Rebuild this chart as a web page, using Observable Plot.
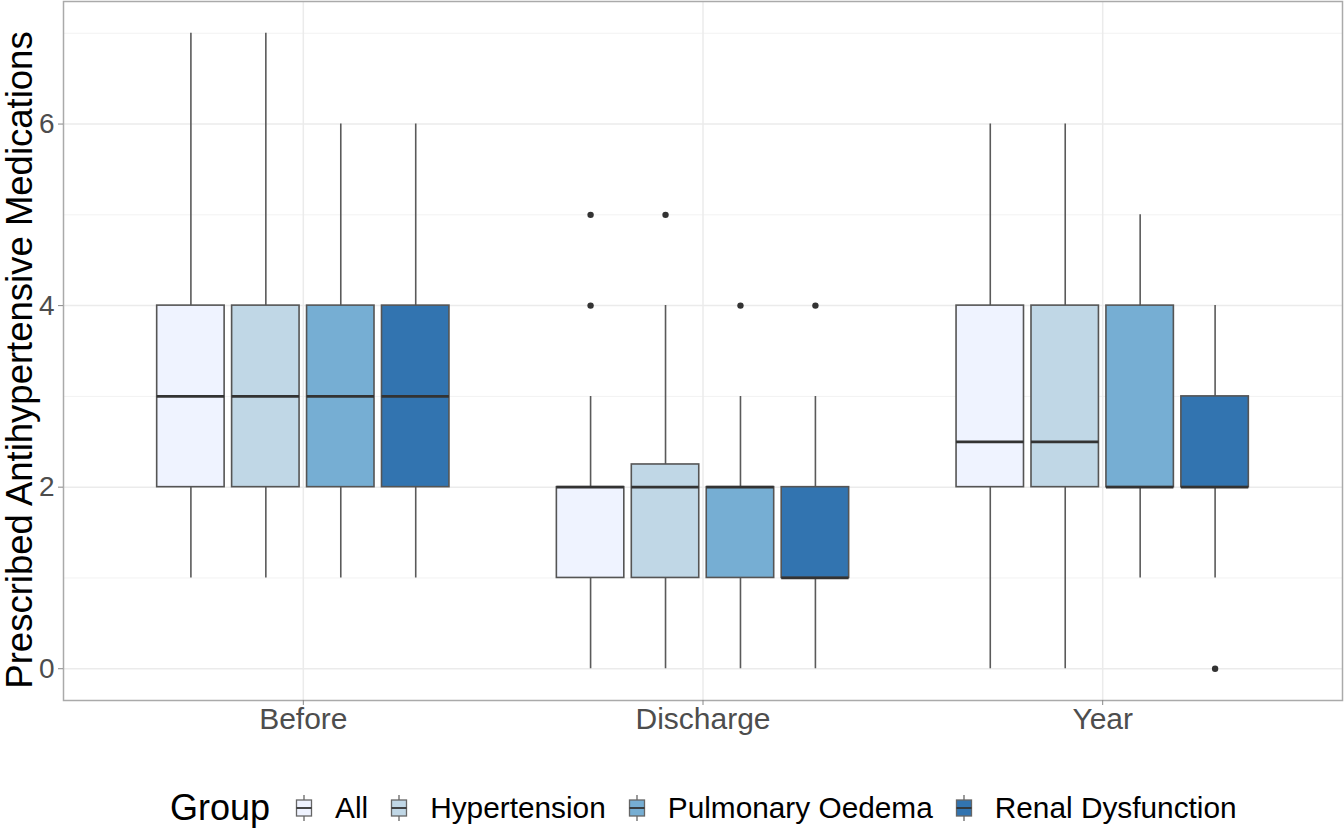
<!DOCTYPE html>
<html>
<head>
<meta charset="utf-8">
<script src="https://cdn.jsdelivr.net/npm/d3@7"></script>
<script src="https://cdn.jsdelivr.net/npm/@observablehq/plot@0.6"></script>
<style>
  html, body { margin: 0; padding: 0; background: #fff; }
  body { width: 1344px; height: 833px; overflow: hidden; font-family: "Liberation Sans", Arial, Helvetica, sans-serif; }
  #legend { height: 83px; display: flex; align-items: center; padding-left: 170px; padding-top: 33px; box-sizing: border-box; }
  #legend .title { font-size: 36px; color: #000; margin-right: 25px; }
  #legend .item { display: flex; align-items: center; margin-right: 22px; }
  #legend .item svg { margin-right: 22px; }
  #legend .item span { font-size: 29.8px; color: #000; }
</style>
</head>
<body>
<div id="chart"></div>
<div id="legend"></div>
<script>
// ---- data ----
const times = ["Before", "Discharge", "Year"];
const groups = ["All", "Hypertension", "Pulmonary Oedema", "Renal Dysfunction"];
const colors = ["#EFF3FF", "#C0D7E6", "#76AED3", "#3274B0"];
// rows = times, columns = groups
const lowerWhisker = [[1, 1, 1, 1], [0, 0, 0, 0], [0, 0, 1, 1]];
const q1 = [[2, 2, 2, 2], [1, 1, 1, 1], [2, 2, 2, 2]];
const median = [[3, 3, 3, 3], [2, 2, 2, 1], [2.5, 2.5, 2, 2]];
const q3 = [[4, 4, 4, 4], [2, 2.25, 2, 2], [4, 4, 4, 3]];
const upperWhisker = [[7, 7, 6, 6], [3, 4, 3, 3], [6, 6, 5, 4]];
const outlierTime = ["Discharge", "Discharge", "Discharge", "Discharge", "Discharge", "Year"];
const outlierGroup = ["All", "All", "Hypertension", "Pulmonary Oedema", "Renal Dysfunction", "Renal Dysfunction"];
const outlierValue = [4, 5, 5, 4, 4, 0];
const yMajor = [0, 2, 4, 6];
const yMinor = [1, 3, 5, 7];

// ---- build tables ----
const slot = 0.75 / groups.length;
const halfBox = slot * 0.9 / 2;
const pos = (t, g) => times.indexOf(t) + 1 + (groups.indexOf(g) - (groups.length - 1) / 2) * slot;
const boxes = [];
times.forEach((t, i) => groups.forEach((g, j) => {
  const c = pos(t, g);
  boxes.push({time: t, group: g, x: c, x1: c - halfBox, x2: c + halfBox,
    lo: lowerWhisker[i][j], q1: q1[i][j], med: median[i][j], q3: q3[i][j], hi: upperWhisker[i][j]});
}));
const outliers = outlierValue.map((v, k) => ({x: pos(outlierTime[k], outlierGroup[k]), y: v}));

const color = {domain: groups, range: colors};

const chart = Plot.plot({
  width: 1344,
  height: 750,
  marginLeft: 63,
  marginRight: 2,
  marginTop: 1,
  marginBottom: 50,
  style: {fontFamily: '"Liberation Sans", Arial, Helvetica, sans-serif', background: "#fff"},
  x: {domain: [0.4, 3.6], label: null},
  y: {domain: [-0.35, 7.35], label: null},
  color,
  marks: [
    Plot.ruleY(yMinor, {stroke: "#f2f2f2", strokeWidth: 1}),
    Plot.ruleY(yMajor, {stroke: "#ebebeb", strokeWidth: 1.5}),
    Plot.ruleX([1, 2, 3], {stroke: "#ebebeb", strokeWidth: 1.5}),
    Plot.ruleX(boxes, {x: "x", y1: "lo", y2: "hi", stroke: "#5a5a5a", strokeWidth: 1.6}),
    Plot.rect(boxes, {x1: "x1", x2: "x2", y1: "q1", y2: "q3", fill: "group", stroke: "#555", strokeWidth: 1.6}),
    Plot.ruleY(boxes, {x1: "x1", x2: "x2", y: "med", stroke: "#333", strokeWidth: 2.8}),
    Plot.dot(outliers, {x: "x", y: "y", r: 3.2, fill: "#333", stroke: null}),
    Plot.frame({stroke: "#aaaaaa", strokeWidth: 1.5}),
    Plot.axisY({ticks: yMajor, tickSize: 5, tickPadding: 4, stroke: "#888", fontSize: 28, fill: "#4d4d4d", label: null}),
    Plot.axisX({ticks: [1, 2, 3], tickFormat: d => times[d - 1], tickSize: 5, tickPadding: 2, stroke: "#888", fontSize: 30, fill: "#4d4d4d", label: null}),
    Plot.text(["Prescribed Antihypertensive Medications"], {frameAnchor: "left", textAnchor: "middle", dx: -43, dy: 9, rotate: -90, fontSize: 36.5, fill: "#000", text: d => d})
  ]
});
document.getElementById("chart").appendChild(chart);

// ---- legend ----
const legend = document.getElementById("legend");
const title = document.createElement("div");
title.className = "title";
title.textContent = "Group";
legend.appendChild(title);
groups.forEach((g, i) => {
  const item = document.createElement("div");
  item.className = "item";
  item.innerHTML = `<svg width="18" height="26" viewBox="0 0 18 26">
    <line x1="9" y1="0" x2="9" y2="26" stroke="#666" stroke-width="1.3"/>
    <rect x="1.5" y="5" width="15" height="16" fill="${colors[i]}" stroke="#666" stroke-width="1.3"/>
    <line x1="1.5" y1="13" x2="16.5" y2="13" stroke="#333" stroke-width="1.8"/>
  </svg><span>${g}</span>`;
  legend.appendChild(item);
});
</script>
</body>
</html>
